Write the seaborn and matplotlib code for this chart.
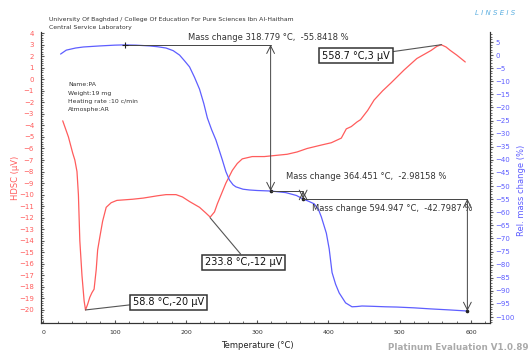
import matplotlib
matplotlib.use("Agg")
import matplotlib.pyplot as plt
from matplotlib.ticker import MultipleLocator, AutoMinorLocator, FixedLocator
import seaborn as sns

# HDSC curve (left axis, µV)
dsc_temp = [27, 35, 41, 44, 47, 49, 51, 54, 57, 59, 62, 65, 68, 71, 74, 76, 79, 83, 88,
            95, 103, 125, 140, 160, 172, 186, 195, 205, 219, 228, 234, 240, 244, 250,
            256, 265, 272, 279, 293, 310, 342, 356, 370, 390, 404, 418, 425, 432, 440,
            445, 455, 464, 476, 488, 506, 524, 544, 552, 558, 565, 571, 580, 592]
dsc_val = [-3.6, -5.0, -6.4, -7.0, -8.0, -10.0, -14.0, -17.0, -19.2, -20.0, -19.5,
           -18.9, -18.5, -18.2, -16.5, -14.8, -13.7, -12.3, -11.1, -10.7, -10.5, -10.4,
           -10.3, -10.1, -10.0, -10.0, -10.2, -10.6, -11.1, -11.6, -11.95, -11.5, -10.8,
           -9.9, -9.0, -7.9, -7.3, -6.9, -6.7, -6.7, -6.5, -6.3, -6.0, -5.7, -5.5, -5.1,
           -4.3, -4.1, -3.7, -3.5, -2.7, -1.8, -1.0, -0.3, 0.8, 1.8, 2.5, 2.85, 3.0,
           2.8, 2.5, 2.1, 1.5]

# relative mass change curve (right axis, %)
tg_temp = [24, 32, 45, 56, 79, 100, 114, 130, 149, 160, 172, 182, 191, 198, 205, 212,
           219, 225, 230, 236, 242, 251, 256, 261, 266, 270, 280, 289, 300, 319, 340,
           355, 364, 372, 380, 386, 390, 397, 401, 405, 410, 415, 424, 433, 440, 447,
           460, 480, 496, 520, 543, 570, 594]
tg_val = [0.4, 1.9, 2.7, 3.1, 3.5, 3.8, 3.9, 3.8, 3.5, 3.2, 2.7, 1.7, 0.0, -2.2, -4.5,
          -8.5, -13.0, -18.5, -24.0, -28.5, -32.4, -40.0, -44.5, -47.7, -49.5, -50.3,
          -51.2, -51.5, -51.7, -51.9, -52.5, -53.6, -54.9, -55.8, -56.8, -59.0, -61.8,
          -68.0, -74.0, -83.0, -87.5, -90.8, -94.6, -96.1, -96.0, -95.8, -95.9, -96.1,
          -96.2, -96.5, -96.9, -97.3, -97.7]

# mass change steps: (temperature, level before, level after)
mass_steps = [(318.779, 3.94, -51.9), (364.451, -51.9, -54.88), (594.947, -54.88, -97.68)]
mass_start = 114
mass_labels = ["Mass change 318.779 °C,  -55.8418 %",
               "Mass change 364.451 °C,  -2.98158 %",
               "Mass change 594.947 °C,  -42.7987 %"]

# DSC peak boxes
peaks_x = [58.8, 233.8, 558.7]
peaks_y = [-20, -12, 3]
peak_labels = ["58.8 °C,-20 µV", "233.8 °C,-12 µV", "558.7 °C,3 µV"]

sns.set_style("white")
plt.rcParams['font.family'] = ['DejaVu Sans']

red = '#ff5c5c'
blue = '#5e5eff'
grey = '#444444'

fig = plt.figure(figsize=(5.29, 3.53), dpi=100)
ax = fig.add_axes([41/529, 1-323/353, (490-41)/529, (323-32)/353])
ax2 = ax.twinx()

sns.lineplot(x=dsc_temp, y=dsc_val, ax=ax, color=red, linewidth=0.9)
sns.lineplot(x=tg_temp, y=tg_val, ax=ax2, color=blue, linewidth=0.9)

ax.set_xlim(-3.5, 626.7)
ax.set_ylim(-21.13, 4.1)
ax2.set_ylim(-102.29, 8.82)

for a in (ax, ax2):
    a.spines['top'].set_visible(False)
    for s in ('left', 'right', 'bottom'):
        a.spines[s].set_color('#333333')
        a.spines[s].set_linewidth(0.8)

ax.xaxis.set_major_locator(MultipleLocator(100))
ax.xaxis.set_minor_locator(AutoMinorLocator(5))
ax.yaxis.set_major_locator(FixedLocator(list(range(-20, 5))))
ax.yaxis.set_minor_locator(MultipleLocator(0.2))
ax2.yaxis.set_major_locator(MultipleLocator(5))
ax2.yaxis.set_minor_locator(AutoMinorLocator(5))

ax.tick_params(axis='x', which='both', direction='in', labelsize=4.5, labelcolor='#333333',
               pad=5, bottom=True, color='#555555')
ax.tick_params(axis='x', which='major', length=2.5)
ax.tick_params(axis='x', which='minor', length=1.3)
ax.tick_params(axis='y', which='both', direction='in', labelsize=5, labelcolor=red,
               pad=5, left=True, color='#555555')
ax.tick_params(axis='y', which='major', length=2.5)
ax.tick_params(axis='y', which='minor', length=1.3)
ax2.tick_params(axis='y', which='both', direction='out', labelsize=5, labelcolor=blue,
                pad=1.5, right=True, color='#555555')
ax2.tick_params(axis='y', which='major', length=2.5)
ax2.tick_params(axis='y', which='minor', length=1.3)

ax.set_xlabel('')
ax.set_ylabel('')
ax2.set_ylabel('')

# mass change annotations
arrow_kw = dict(arrowstyle='<->, head_length=0.55, head_width=0.28', color=grey, lw=0.7,
                shrinkA=0, shrinkB=0)
ax2.plot([mass_start, mass_steps[0][0]], [mass_steps[0][1]] * 2, color=grey, lw=0.7)
ax2.plot([mass_start], [mass_steps[0][1]], marker='+', color='#222222', ms=5, mew=0.8)
prev = None
for i, (t, y0, y1) in enumerate(mass_steps):
    if prev is not None:
        ax2.plot([prev, t], [y0, y0], color=grey, lw=0.7)
    ax2.annotate('', xy=(t, y0), xytext=(t, y1), arrowprops=arrow_kw)
    ax2.plot([t], [y1], marker='o', color='#222222', ms=1.6)
    prev = t

ax2.text(202.8, 6.53, mass_labels[0], fontsize=6, color='#333333', va='center')
ax2.text(340.4, -46.54, mass_labels[1], fontsize=6, color='#333333', va='center')
ax2.text(601.4, -58.76, mass_labels[2], fontsize=6, color='#333333', va='center', ha='right')

# DSC peak boxes
box_pos = [(176.1, -19.35), (280.7, -15.88), (438.6, 2.06)]
rel = [(0, 0.3), (0.5, 1), (1, 0.85)]
for px, py, lab, bp, rp in zip(peaks_x, peaks_y, peak_labels, box_pos, rel):
    ax.annotate(lab, xy=(px, py), xytext=bp, fontsize=7, color='#111111',
                ha='center', va='center', zorder=5,
                bbox=dict(boxstyle='square,pad=0.3', fc='white', ec='#333333', lw=1.1),
                arrowprops=dict(arrowstyle='-', color='#555555', lw=0.8, relpos=rp,
                                shrinkA=0, shrinkB=0))

# header and sample info
fig.text(49/529, 1-19/353, 'University Of Baghdad / College Of Education For Pure Sciences Ibn Al-Haitham',
         fontsize=4.4, color='#333333', va='center')
fig.text(49/529, 1-28/353, 'Central Service Laboratory', fontsize=4.4, color='#333333', va='center')
info = ['Name:PA', 'Weight:19 mg', 'Heating rate :10 c/min', 'Atmosphe:AR']
for k, line in enumerate(info):
    fig.text(68/529, 1-(85+8*k)/353, line, fontsize=4.4, color='#333333', va='center')

fig.text(475/529, 1-13/353, 'L I N S E I S', fontsize=5, color='#5aaee0', style='italic',
         va='center')
fig.text(388/529, 1-348/353, 'Platinum Evaluation V1.0.89', fontsize=6.3, color='#aaaaaa',
         fontweight='bold', va='center')

fig.text(257/529, 1-345/353, 'Temperature (°C)', fontsize=6, color='#222222', ha='center', va='center')
fig.text(16/529, 1-178/353, 'HDSC (µV)', fontsize=6, color=red, rotation=90, ha='center', va='center')
fig.text(522/529, 1-190/353, 'Rel. mass change (%)', fontsize=6, color=blue, rotation=90,
         ha='center', va='center')

fig.savefig('out.png', dpi=100)
